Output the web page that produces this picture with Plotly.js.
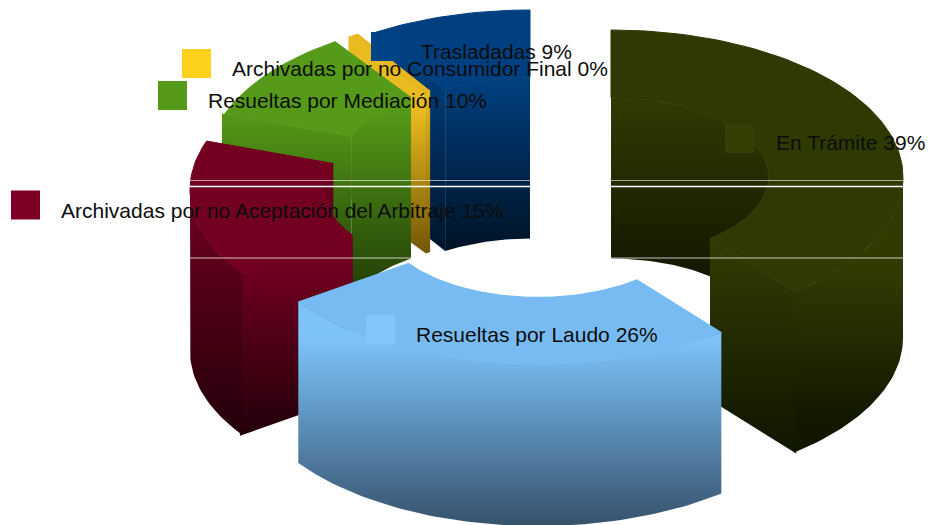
<!DOCTYPE html>
<html><head><meta charset="utf-8">
<script src="https://cdn.plot.ly/plotly-3.0.1.min.js"></script>
<style>html,body{margin:0;padding:0;background:#fff}#c{width:934px;height:525px}</style>
</head><body><div id="c"></div>
<script>
// data
const categories = ["En Trámite","Resueltas por Laudo","Archivadas por no Aceptación del Arbitraje","Resueltas por Mediación","Archivadas por no Consumidor Final","Trasladadas"];
const values = [39,26,15,10,0.5,9];
const shownPercent = ["39%","26%","15%","10%","0%","9%"];
// slice style
const topColors  = ["#2f3a03","#78bbf2","#730020","#559a18","#e8b81e","#003f80"];
const wallTop    = ["#303b02","#7cc3fa","#730020","#559b18","#eabb20","#004080"];
const wallBottom = ["#121700","#36526c","#22000a","#1f3a06","#6e5204","#001428"];
const keyColors  = ["#333f05","#80c5fc","#7c0024","#559a18","#fdd01c","#004488"];
// layout of the exploded ring (pixels)
const centersX = [611,538,482,500,515,530];
const centersY = [177,218,190,163,158,157];
const innerShade = [[97,280],[300,400],[160,420],[110,300],[90,260],[77,245]];
const faceShade  = [[250,440],[300,500],[262,436],[110,300],[110,258],[60,255]];
const outerShade = [[270,420],[340,525],[190,437],[0,1],[0,1],[0,1]];
const keyX = [739.5,380.5,25.5,172.5,196.5,385.5];
const keyY = [138.5,329.5,205,95.5,63.5,46.5];
const labelX = [776,416,61,208,232,421];
const labelY = [142,334,210,100,68,51];
const drawOrder = [5,4,3,2,0,1];
const RX=292, RY=147, HOLE=0.54, H=161;
const total = values.reduce((a,b)=>a+b,0);
const rad = d=>d*Math.PI/180;
function arc(cx,cy,rx,ry,a,b,dy){const xs=[],ys=[],n=Math.max(2,Math.ceil(Math.abs(b-a)/1.5));
  for(let i=0;i<=n;i++){const t=rad(a+(b-a)*i/n);xs.push(cx+rx*Math.sin(t));ys.push(cy-ry*Math.cos(t)+dy);}
  return [xs,ys];}
function poly(parts,fill,edge){const x=[],y=[];parts.forEach(p=>{x.push(...p[0]);y.push(...p[1]);});
  x.push(x[0]);y.push(y[0]);
  const t={type:"scatter",mode:"lines",x,y,fill:"toself",line:edge?{width:1,color:edge}:{width:0},hoverinfo:"skip",showlegend:false};
  if(typeof fill==="string"){t.fillcolor=fill;}
  else{t.fillcolor="rgba(0,0,0,0)";t.fillgradient={type:"vertical",start:fill[0],stop:fill[1],colorscale:[[0,fill[2]],[1,fill[3]]]};}
  return t;}
const angles=[];let acc=0;values.forEach(v=>{const a=acc/total*360;acc+=v;angles.push([a,acc/total*360]);});
const traces=[];
drawOrder.forEach(i=>{
  const [a,b]=angles[i],cx=centersX[i],cy=centersY[i],ix=RX*HOLE,iy=RY*HOLE;
  const rev=p=>[p[0].slice().reverse(),p[1].slice().reverse()];
  // inner wall
  traces.push(poly([arc(cx,cy,ix,iy,a,b,0),rev(arc(cx,cy,ix,iy,a,b,H))],[innerShade[i][0],innerShade[i][1],wallTop[i],wallBottom[i]]));
  // cut faces (pushed slightly under the outer wall so no hairline shows)
  [[a,-Math.sin(rad(a))],[b,Math.sin(rad(b))]].forEach(f=>{
    if(f[1]>0.001){const t=f[0],sx=Math.sin(rad(t)),cs=Math.cos(rad(t));
      const xi=cx+ix*sx,yi=cy-iy*cs,xo=cx+RX*1.01*sx,yo=cy-RY*1.01*cs;
      traces.push(poly([[[xi,xo,xo,xi],[yi,yo,yo+H,yi+H]]],[faceShade[i][0],faceShade[i][1],wallTop[i],wallBottom[i]]));}
  });
  // outer wall
  const oa=Math.max(a,90),ob=Math.min(b,270);
  if(ob>oa){traces.push(poly([arc(cx,cy,RX,RY,oa,ob,0),rev(arc(cx,cy,RX,RY,oa,ob,H))],[outerShade[i][0],outerShade[i][1],wallTop[i],wallBottom[i]]));}
  // top surface
  traces.push(poly([arc(cx,cy,RX,RY,a,b,0),rev(arc(cx,cy,ix,iy,a,b,0))],topColors[i],topColors[i]));
});
// seams across the picture
const seams=[[180.5,"rgba(255,255,255,0.6)",1],[186.5,"#ffffff",1.5],[258,"rgba(255,255,255,0.75)",1]];
const seamEnds=[[188,530,611,903],[188,530,611,903],[188,412,611,903]];
seams.forEach((s,k)=>{const e=seamEnds[k];
  traces.push({type:"scatter",mode:"lines",x:[e[0],e[1],null,e[2],e[3]],y:[s[0],s[0],null,s[0],s[0]],line:{color:s[1],width:s[2]},hoverinfo:"skip",showlegend:false});});
// legend keys
traces.push({type:"scatter",mode:"markers",x:keyX,y:keyY,marker:{symbol:"square",size:29,color:keyColors,line:{width:0}},hoverinfo:"skip",showlegend:false});
const annotations=categories.map((c,i)=>({x:labelX[i],y:labelY[i],xref:"x",yref:"y",xanchor:"left",yanchor:"middle",showarrow:false,borderpad:0,borderwidth:0,
  text:c+" "+shownPercent[i],font:{family:"Liberation Sans, Arial, sans-serif",size:21,color:"#0d0d0d"}}));
const ax={visible:false,showgrid:false,zeroline:false,fixedrange:true};
Plotly.newPlot("c",traces,{width:934,height:525,margin:{l:0,r:0,t:0,b:0},paper_bgcolor:"#fff",plot_bgcolor:"#fff",showlegend:false,
  xaxis:{...ax,range:[0,934]},yaxis:{...ax,range:[525,0]},annotations},{staticPlot:true,displayModeBar:false});
</script></body></html>
